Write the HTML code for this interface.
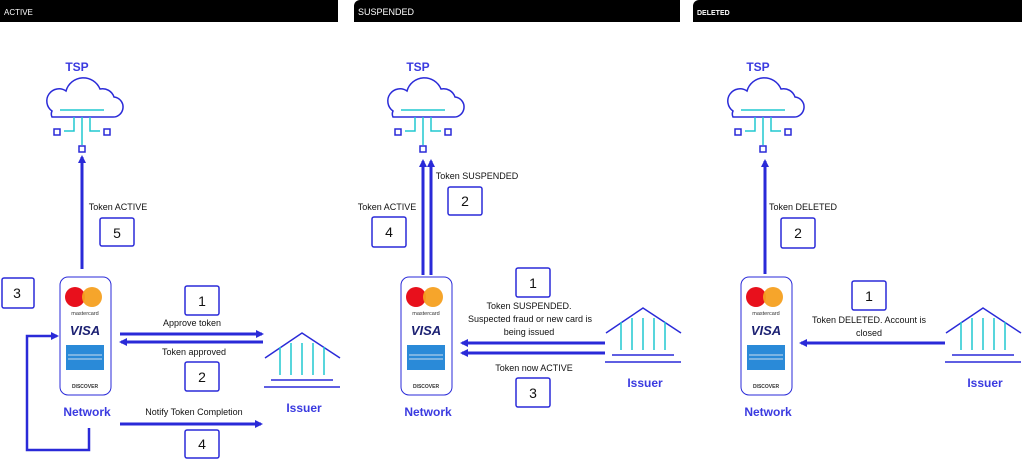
<!DOCTYPE html>
<html><head><meta charset="utf-8"><style>
html,body{margin:0;padding:0;background:#fff;width:1022px;height:466px;overflow:hidden}
svg{display:block;font-family:"Liberation Sans",Arial,sans-serif}
</style></head><body>
<svg width="1022" height="466" viewBox="0 0 1022 466" xmlns="http://www.w3.org/2000/svg">
<defs>
<marker id="ah" markerWidth="8" markerHeight="8" refX="6" refY="4" orient="auto" markerUnits="userSpaceOnUse"><path d="M0,0 L8,4 L0,8 z" fill="#2a2ad8"/></marker>
<g id="cloud">
 <path d="M52,117 h60 a10,10 0 0 0 2,-20 a12,12 0 0 0 -14,-8 a18,18 0 0 0 -34,2 a12,12 0 0 0 -14,20 a7,7 0 0 0 0,6 z" fill="none" stroke="#2a2ad8" stroke-width="1.5"/>
 <line x1="60" y1="110" x2="104" y2="110" stroke="#20c8d0" stroke-width="1.5"/>
 <path d="M82,117 v28 M74,117 v14 h-10 M90,117 v14 h10" fill="none" stroke="#20c8d0" stroke-width="1.5"/>
 <rect x="54" y="129" width="6" height="6" fill="#fff" stroke="#2a2ad8" stroke-width="1.5"/>
 <rect x="104" y="129" width="6" height="6" fill="#fff" stroke="#2a2ad8" stroke-width="1.5"/>
 <rect x="79" y="146" width="6" height="6" fill="#fff" stroke="#2a2ad8" stroke-width="1.5"/>
 <text x="77" y="71" font-size="12" font-weight="bold" fill="#3a3ae0" text-anchor="middle">TSP</text>
</g>
<g id="card">
 <rect x="60" y="277" width="51" height="118" rx="8" fill="#fff" stroke="#2a2ad8" stroke-width="1"/>
 <circle cx="75" cy="297" r="10" fill="#e8101c"/>
 <circle cx="92" cy="297" r="10" fill="#f5a020" fill-opacity="0.95"/>
 <text x="85" y="315" font-size="5.5" fill="#333" text-anchor="middle">mastercard</text>
 <text x="85" y="335" font-size="13" font-weight="bold" font-style="italic" fill="#1a1f71" text-anchor="middle">VISA</text>
 <rect x="66" y="345" width="38" height="25" fill="#2a8ad8"/>
 <line x1="68" y1="355" x2="102" y2="355" stroke="#cde" stroke-width="1"/>
 <line x1="68" y1="359" x2="102" y2="359" stroke="#cde" stroke-width="1"/>
 <text x="85" y="388" font-size="5" font-weight="bold" fill="#333" text-anchor="middle">DISCOVER</text>
 <text x="87" y="416" font-size="12" font-weight="bold" fill="#3a3ae0" text-anchor="middle">Network</text>
</g>
<g id="bank">
 <path d="M265,333 L302,308 L340,333" fill="none" stroke="#2a2ad8" stroke-width="1.5"/>
 <path d="M280,322 v28 M291,318 v32 M302,318 v32 M313,318 v32 M324,322 v28" stroke="#20c8d0" stroke-width="1.5"/>
 <line x1="271" y1="355" x2="333" y2="355" stroke="#2a2ad8" stroke-width="1.5"/>
 <line x1="264" y1="362" x2="340" y2="362" stroke="#2a2ad8" stroke-width="1.5"/>
 <text x="304" y="387" font-size="12" font-weight="bold" fill="#3a3ae0" text-anchor="middle">Issuer</text>
</g>
</defs>

<path d="M0,0 H338 V22 H0 z" fill="#000"/>
<path d="M360,0 H680 V22 H354 V6 a6,6 0 0 1 6,-6 z" fill="#000"/>
<path d="M699,0 H1022 V22 H693 V6 a6,6 0 0 1 6,-6 z" fill="#000"/>
<text x="4" y="15" font-size="8" fill="#fff">ACTIVE</text>
<text x="358" y="15" font-size="9" fill="#fff">SUSPENDED</text>
<text x="697" y="15" font-size="7" font-weight="bold" fill="#fff">DELETED</text>

<g font-size="9" fill="#111" text-anchor="middle">
<use href="#cloud"/>
<use href="#card"/>
<use href="#bank" y="25"/>
<line x1="82" y1="269" x2="82" y2="157" stroke="#2a2ad8" stroke-width="3" marker-end="url(#ah)"/>
<text x="118" y="210">Token ACTIVE</text>
<rect x="100" y="218" width="34" height="28" rx="2" fill="#fff" stroke="#2a2ad8" stroke-width="1.5"/>
<text x="117" y="238" font-size="14">5</text>
<rect x="2" y="278" width="32" height="30" rx="2" fill="#fff" stroke="#2a2ad8" stroke-width="1.5"/>
<text x="17" y="298" font-size="14">3</text>
<rect x="185" y="286" width="34" height="29" rx="2" fill="#fff" stroke="#2a2ad8" stroke-width="1.5"/>
<text x="202" y="306" font-size="14">1</text>
<text x="192" y="326">Approve token</text>
<line x1="120" y1="334" x2="262" y2="334" stroke="#2a2ad8" stroke-width="3" marker-end="url(#ah)"/>
<line x1="263" y1="342" x2="121" y2="342" stroke="#2a2ad8" stroke-width="3" marker-end="url(#ah)"/>
<text x="194" y="355">Token approved</text>
<rect x="185" y="362" width="34" height="29" rx="2" fill="#fff" stroke="#2a2ad8" stroke-width="1.5"/>
<text x="202" y="382" font-size="14">2</text>
<text x="194" y="415">Notify Token Completion</text>
<line x1="120" y1="424" x2="261" y2="424" stroke="#2a2ad8" stroke-width="3" marker-end="url(#ah)"/>
<rect x="185" y="430" width="34" height="28" rx="2" fill="#fff" stroke="#2a2ad8" stroke-width="1.5"/>
<text x="202" y="449" font-size="14">4</text>
<path d="M89,428 V450 H27 V336 H57" fill="none" stroke="#2a2ad8" stroke-width="2.5" marker-end="url(#ah)"/>

<use href="#cloud" x="341"/>
<use href="#card" x="341"/>
<use href="#bank" x="341"/>
<line x1="423" y1="275" x2="423" y2="161" stroke="#2a2ad8" stroke-width="3" marker-end="url(#ah)"/>
<line x1="431" y1="275" x2="431" y2="161" stroke="#2a2ad8" stroke-width="3" marker-end="url(#ah)"/>
<text x="477" y="179">Token SUSPENDED</text>
<rect x="448" y="187" width="34" height="28" rx="2" fill="#fff" stroke="#2a2ad8" stroke-width="1.5"/>
<text x="465" y="206" font-size="14">2</text>
<text x="387" y="210">Token ACTIVE</text>
<rect x="372" y="217" width="34" height="30" rx="2" fill="#fff" stroke="#2a2ad8" stroke-width="1.5"/>
<text x="389" y="237" font-size="14">4</text>
<rect x="516" y="268" width="34" height="29" rx="2" fill="#fff" stroke="#2a2ad8" stroke-width="1.5"/>
<text x="533" y="288" font-size="14">1</text>
<text x="529" y="309">Token SUSPENDED.</text>
<text x="530" y="322">Suspected fraud or new card is</text>
<text x="529" y="335">being issued</text>
<line x1="605" y1="343" x2="462" y2="343" stroke="#2a2ad8" stroke-width="3" marker-end="url(#ah)"/>
<line x1="605" y1="353" x2="462" y2="353" stroke="#2a2ad8" stroke-width="3" marker-end="url(#ah)"/>
<text x="534" y="371">Token now ACTIVE</text>
<rect x="516" y="378" width="34" height="29" rx="2" fill="#fff" stroke="#2a2ad8" stroke-width="1.5"/>
<text x="533" y="398" font-size="14">3</text>

<use href="#cloud" x="681"/>
<use href="#card" x="681"/>
<use href="#bank" x="681"/>
<line x1="765" y1="274" x2="765" y2="161" stroke="#2a2ad8" stroke-width="3" marker-end="url(#ah)"/>
<text x="803" y="210">Token DELETED</text>
<rect x="781" y="218" width="34" height="30" rx="2" fill="#fff" stroke="#2a2ad8" stroke-width="1.5"/>
<text x="798" y="238" font-size="14">2</text>
<rect x="852" y="281" width="34" height="29" rx="2" fill="#fff" stroke="#2a2ad8" stroke-width="1.5"/>
<text x="869" y="301" font-size="14">1</text>
<text x="869" y="323">Token DELETED. Account is</text>
<text x="869" y="336">closed</text>
<line x1="945" y1="343" x2="801" y2="343" stroke="#2a2ad8" stroke-width="3" marker-end="url(#ah)"/>
</g>
</svg>
</body></html>
